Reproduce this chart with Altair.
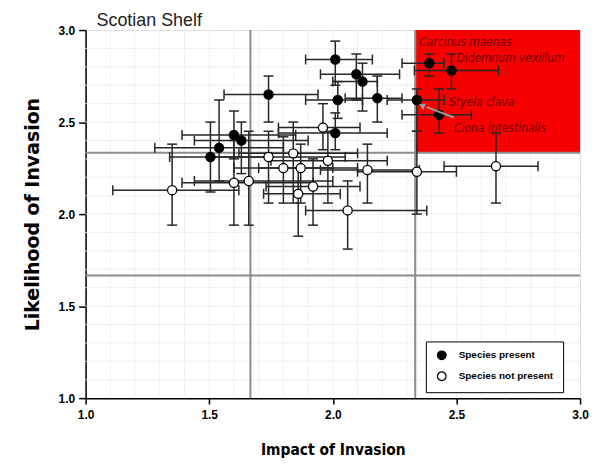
import altair as alt
import pandas as pd

# ---- Species present (filled circles) ----
pres_x   = [2.01, 2.095, 2.12, 1.74, 2.02, 2.18, 2.34, 2.43, 2.39, 2.48, 1.60, 1.63, 1.54, 1.505, 2.01]
pres_xlo = [1.89, 1.95, 2.00, 1.56, 1.89, 2.05, 2.22, 2.28, 2.28, 2.33, 1.39, 1.44, 1.28, 1.34, 1.78]
pres_xhi = [2.16, 2.27, 2.18, 1.94, 2.12, 2.28, 2.45, 2.56, 2.45, 2.67, 1.85, 1.90, 1.80, 1.75, 2.22]
pres_y   = [2.84, 2.76, 2.72, 2.65, 2.62, 2.63, 2.62, 2.54, 2.82, 2.78, 2.43, 2.40, 2.36, 2.31, 2.44]
pres_ylo = [2.70, 2.62, 2.56, 2.50, 2.52, 2.50, 2.45, 2.44, 2.75, 2.68, 2.30, 2.22, 2.18, 2.12, 2.35]
pres_yhi = [2.94, 2.87, 2.82, 2.75, 2.72, 2.75, 2.68, 2.68, 2.87, 2.87, 2.56, 2.50, 2.62, 2.50, 2.55]

# ---- Species not present (open circles) ----
abs_x   = [1.35, 1.60, 1.66, 1.96, 1.74, 1.84, 1.80, 1.87, 1.98, 2.14, 1.86, 1.92, 2.06, 2.34, 2.66]
abs_xlo = [1.11, 1.39, 1.44, 1.78, 1.50, 1.62, 1.60, 1.70, 1.75, 1.95, 1.72, 1.73, 1.89, 2.10, 2.45]
abs_xhi = [1.62, 1.92, 2.00, 2.11, 2.05, 2.10, 2.00, 2.10, 2.22, 2.35, 2.03, 2.11, 2.38, 2.50, 2.83]
abs_y   = [2.13, 2.17, 2.18, 2.47, 2.31, 2.33, 2.25, 2.25, 2.29, 2.24, 2.11, 2.15, 2.02, 2.23, 2.26]
abs_ylo = [1.94, 1.94, 1.94, 2.35, 2.06, 2.06, 2.06, 2.06, 2.06, 2.06, 1.88, 1.94, 1.81, 2.00, 2.06]
abs_yhi = [2.38, 2.40, 2.45, 2.60, 2.45, 2.50, 2.42, 2.38, 2.45, 2.38, 2.25, 2.30, 2.18, 2.45, 2.44]

status_labels = ["Species present", "Species not present"]

# annotations
ann_text = ["Carcinus maenas", "Didemnum vexillum", "Styela clava", "Ciona intestinalis"]
ann_x    = [2.35, 2.50, 2.47, 2.49]
ann_y    = [2.935, 2.85, 2.61, 2.47]

arrow_from = (2.49, 2.525)
arrow_to   = (2.36, 2.59)

panel_title = ["Scotian Shelf"]

thirds = [1.6667, 2.3333]
minor = [round(1.0 + 0.1 * i, 2) for i in range(1, 20)]
ticks = [1.0, 1.5, 2.0, 2.5, 3.0]

rows = []
for st, xs, xl, xh, ys, yl, yh in [
    (status_labels[0], pres_x, pres_xlo, pres_xhi, pres_y, pres_ylo, pres_yhi),
    (status_labels[1], abs_x, abs_xlo, abs_xhi, abs_y, abs_ylo, abs_yhi),
]:
    for i in range(len(xs)):
        rows.append(dict(status=st, x=xs[i], xlo=xl[i], xhi=xh[i], y=ys[i], ylo=yl[i], yhi=yh[i]))
df = pd.DataFrame(rows)

caps_x = pd.concat([df[["xlo", "y"]].rename(columns={"xlo": "x"}), df[["xhi", "y"]].rename(columns={"xhi": "x"})])
caps_y = pd.concat([df[["x", "ylo"]].rename(columns={"ylo": "y"}), df[["x", "yhi"]].rename(columns={"yhi": "y"})])

NARROW = "Liberation Sans Narrow, DejaVu Sans Condensed, Liberation Sans, Arial, sans-serif"
SANS = "Liberation Sans, Arial, sans-serif"

xscale = alt.Scale(domain=[1, 3], nice=False, zero=False)
yscale = alt.Scale(domain=[1, 3], nice=False, zero=False)

xaxis = alt.Axis(values=ticks, format=".1f", title="Impact of Invasion", grid=False,
                 tickSize=6, tickColor="black", tickWidth=1.5, domainColor="black", domainWidth=1.5,
                 labelFont=SANS, labelFontWeight="bold", labelFontSize=12, labelColor="black",
                 labelPadding=5, labelFlush=False,
                 titleFont=NARROW, titleFontSize=15.5, titleFontWeight="bold", titleColor="black",
                 titlePadding=23)
yaxis = alt.Axis(values=ticks, format=".1f", title="Likelihood of Invasion", grid=False,
                 tickSize=7, tickColor="black", tickWidth=1.5, domainColor="black", domainWidth=1.5,
                 labelFont=SANS, labelFontWeight="bold", labelFontSize=12, labelColor="black",
                 labelPadding=4, labelFlush=False,
                 titleFont="DejaVu Sans", titleFontSize=19, titleFontWeight="bold", titleColor="black",
                 titlePadding=16)


def X(f, **kw):
    return alt.X(f, type="quantitative", scale=xscale, axis=xaxis, **kw)


def Y(f, **kw):
    return alt.Y(f, type="quantitative", scale=yscale, axis=yaxis, **kw)


red = alt.Chart(pd.DataFrame({"x": [thirds[1]], "x2": [3.0], "y": [thirds[1]], "y2": [3.0]})).mark_rect(
    color="#f70000").encode(x=X("x"), x2="x2", y=Y("y"), y2="y2")

minor_v = alt.Chart(pd.DataFrame({"v": minor})).mark_rule(color="#f0f0f0", strokeWidth=1).encode(x=X("v"))
minor_h = alt.Chart(pd.DataFrame({"v": minor})).mark_rule(color="#f0f0f0", strokeWidth=1).encode(y=Y("v"))

third_v = alt.Chart(pd.DataFrame({"v": thirds})).mark_rule(color="#8c8c8c", strokeWidth=2).encode(x=X("v"))
third_h = alt.Chart(pd.DataFrame({"v": thirds})).mark_rule(color="#8c8c8c", strokeWidth=2).encode(y=Y("v"))

EB = "#262626"
xbars = alt.Chart(df).mark_rule(color=EB, strokeWidth=1.5).encode(x=X("xlo"), x2="xhi", y=Y("y"))
ybars = alt.Chart(df).mark_rule(color=EB, strokeWidth=1.5).encode(x=X("x"), y=Y("ylo"), y2="yhi")
xcaps = alt.Chart(caps_x).mark_tick(orient="vertical", size=10, thickness=1.5, color=EB, opacity=1).encode(
    x=X("x"), y=Y("y"))
ycaps = alt.Chart(caps_y).mark_tick(orient="horizontal", size=10, thickness=1.5, color=EB, opacity=1).encode(
    x=X("x"), y=Y("y"))

points = alt.Chart(df).mark_point(shape="circle", filled=True, size=85, stroke="black",
                                  strokeWidth=1.3, opacity=1).encode(
    x=X("x"), y=Y("y"),
    fill=alt.Fill("status:N", scale=alt.Scale(domain=status_labels, range=["black", "white"]),
                  legend=alt.Legend(title=None, orient="none", legendX=342, legendY=313,
                                    strokeColor="black", fillColor="white", padding=9,
                                    labelFont=SANS, labelFontWeight="bold", labelFontSize=10,
                                    labelColor="black", symbolSize=75, symbolStrokeColor="black",
                                    symbolStrokeWidth=1.3, symbolType="circle", rowPadding=7,
                                    labelOffset=12, symbolOffset=2)),
)

ann = alt.Chart(pd.DataFrame({"t": ann_text, "x": ann_x, "y": ann_y})).mark_text(
    align="left", baseline="middle", font=NARROW, fontStyle="italic", fontSize=12, color="#6e0000").encode(
    x=X("x"), y=Y("y"), text="t:N")

arrow_line = alt.Chart(pd.DataFrame({"x": [arrow_from[0]], "x2": [arrow_to[0] + 0.02], "y": [arrow_from[1]],
                                     "y2": [arrow_to[1] - 0.009]})).mark_rule(color="#9a9a9a", strokeWidth=2).encode(
    x=X("x"), x2="x2", y=Y("y"), y2="y2")
arrow_head = alt.Chart(pd.DataFrame({"x": [arrow_to[0]], "y": [arrow_to[1]]})).mark_point(
    shape="triangle-up", filled=True, color="#9a9a9a", size=50, angle=293, opacity=1).encode(
    x=X("x"), y=Y("y"))

title_txt = alt.Chart(pd.DataFrame({"t": panel_title})).mark_text(
    align="left", baseline="alphabetic", font=SANS, fontSize=18, color="#222222").encode(
    x=alt.value(11), y=alt.value(-4), text="t:N")

chart = alt.layer(
    minor_v, minor_h, red, third_v, third_h, xbars, ybars, xcaps, ycaps, points, ann, arrow_line, arrow_head,
    title_txt
).properties(
    width=497, height=370,
    autosize=alt.AutoSizeParams(type="none"),
    padding={"left": 78, "top": 21, "right": 9, "bottom": 60},
).configure_view(stroke="#8c8c8c", strokeWidth=2).configure(background="white")

chart.save("out.html", embed_options={"renderer": "svg", "actions": False})
